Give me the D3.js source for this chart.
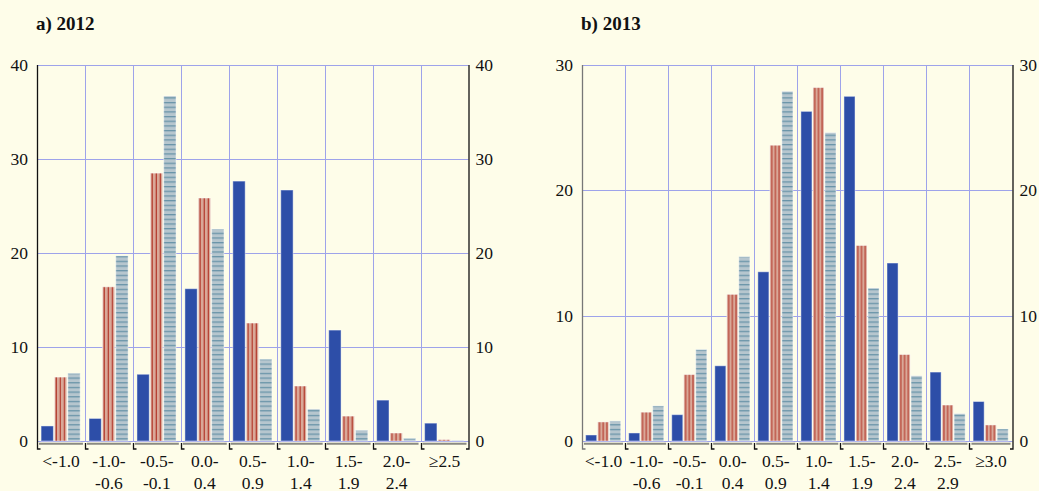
<!DOCTYPE html>
<html>
<head>
<meta charset="utf-8">
<script src="https://cdn.jsdelivr.net/npm/d3@7/dist/d3.min.js"></script>
<style>
body { margin: 0; background: #fefde9; }
svg { display: block; font-family: "Liberation Serif", "Times New Roman", serif; }
svg text { font-family: "Liberation Serif", "Times New Roman", serif; }
</style>
</head>
<body>
<svg width="1039" height="491"></svg>
<script>
// 数据：每组三列（蓝、红竖纹、灰蓝横纹）
var labels2012 = [["<-1.0"], ["-1.0-", "-0.6"], ["-0.5-", "-0.1"], ["0.0-", "0.4"], ["0.5-", "0.9"],
                  ["1.0-", "1.4"], ["1.5-", "1.9"], ["2.0-", "2.4"], ["\u22652.5"]];
var blue2012  = [1.6, 2.4, 7.1, 16.2, 27.65, 26.7, 11.8, 4.35, 1.9];
var red2012   = [6.8, 16.4, 28.5, 25.85, 12.55, 5.85, 2.65, 0.85, 0.15];
var steel2012 = [7.2, 19.7, 36.7, 22.55, 8.7, 3.4, 1.15, 0.28, 0.07];
var ticks2012 = [0, 10, 20, 30, 40];

var labels2013 = [["<-1.0"], ["-1.0-", "-0.6"], ["-0.5-", "-0.1"], ["0.0-", "0.4"], ["0.5-", "0.9"],
                  ["1.0-", "1.4"], ["1.5-", "1.9"], ["2.0-", "2.4"], ["2.5-", "2.9"], ["\u22653.0"]];
var blue2013  = [0.48, 0.64, 2.1, 6.0, 13.5, 26.3, 27.5, 14.2, 5.5, 3.15];
var red2013   = [1.52, 2.3, 5.3, 11.7, 23.6, 28.2, 15.6, 6.9, 2.87, 1.28];
var steel2013 = [1.6, 2.8, 7.3, 14.7, 27.9, 24.6, 12.2, 5.2, 2.18, 0.96];
var ticks2013 = [0, 10, 20, 30];

var svg = d3.select("svg");
var defs = svg.append("defs");

// 红色竖纹
var pr = defs.append("pattern").attr("id", "vstripe")
    .attr("patternUnits", "objectBoundingBox")
    .attr("width", 1 / 3).attr("height", 1);
pr.append("rect").attr("width", 20).attr("height", 600).attr("fill", "#d9a898");
pr.append("rect").attr("x", 1.3).attr("width", 1.1).attr("height", 600).attr("fill", "#b43a2c");

// 灰蓝横纹
var ps = defs.append("pattern").attr("id", "hstripe")
    .attr("patternUnits", "userSpaceOnUse")
    .attr("width", 20).attr("height", 4.67).attr("y", 441);
ps.append("rect").attr("width", 20).attr("height", 4.67).attr("fill", "#b6c6ce");
ps.append("rect").attr("y", 2).attr("width", 20).attr("height", 1.1).attr("fill", "#5d8ca2");

var fills = ["#2d4ea8", "url(#vstripe)", "url(#hstripe)"];

function panel(p) {
    var g = svg.append("g");
    var n = p.labels.length;
    var x = d3.scaleBand().domain(d3.range(n)).range([p.left, p.right]).padding(0);
    var bw = x.bandwidth();
    var inner = d3.scaleBand().domain([0, 1, 2]).range([bw * 0.085, bw * 0.9]).paddingInner(0.08);
    var y = d3.scaleLinear().domain([0, p.ticks[p.ticks.length - 1]]).range([441, 65]);

    // 标题
    g.append("text").attr("x", p.left - 1).attr("y", 30)
        .style("font-size", "19px").attr("font-weight", "bold").attr("fill", "#111")
        .text(p.title);

    // 网格线
    g.selectAll("line.hgrid").data(p.ticks).enter().append("line")
        .attr("x1", p.left).attr("x2", p.right)
        .attr("y1", function (d) { return Math.round(y(d)) + 0.5; })
        .attr("y2", function (d) { return Math.round(y(d)) + 0.5; })
        .attr("stroke", "#9ea3ea").attr("stroke-width", 1);
    g.selectAll("line.vgrid").data(d3.range(1, n)).enter().append("line")
        .attr("x1", function (d) { return Math.round(x(d)) + 0.5; })
        .attr("x2", function (d) { return Math.round(x(d)) + 0.5; })
        .attr("y1", y.range()[1]).attr("y2", 441)
        .attr("stroke", "#9ea3ea").attr("stroke-width", 1);

    // 柱子
    var rows = [];
    for (var i = 0; i < n; i++)
        for (var j = 0; j < 3; j++)
            rows.push({ i: i, j: j, v: p.series[j][i] });
    g.selectAll("rect.bar").data(rows).enter().append("rect")
        .attr("x", function (d) { return x(d.i) + inner(d.j); })
        .attr("y", function (d) { return y(d.v); })
        .attr("width", inner.bandwidth())
        .attr("height", function (d) { return y(0) - y(d.v); })
        .attr("fill", function (d) { return fills[d.j]; })
        .attr("stroke", "#ffffff").attr("stroke-opacity", 0.45).attr("stroke-width", 1);

    // 左右纵轴
    g.append("path").attr("d", "M" + (p.left + 0.5) + ",65V449H" + (p.left + 3.5))
        .attr("fill", "none").attr("stroke", p.leftColor).attr("stroke-width", 1.3);
    g.append("path").attr("d", "M" + (p.right + 0.5) + ",65V449H" + (p.right - 2.5))
        .attr("fill", "none").attr("stroke", "#111").attr("stroke-width", 1.3);

    // 横轴：每组一段灰线 + 刻度
    g.selectAll("line.base").data(d3.range(n)).enter().append("line")
        .attr("x1", function (d) { return x(d) + 2; })
        .attr("x2", function (d) { return x(d) + bw - 2; })
        .attr("y1", 443.8).attr("y2", 443.8)
        .attr("stroke", "#8a8a82").attr("stroke-width", 2);
    g.selectAll("path.tk").data(d3.range(1, n)).enter().append("path")
        .attr("d", function (d) { var xx = Math.round(x(d)) + 0.5; return "M" + xx + ",443V449H" + (xx + 3); })
        .attr("fill", "none").attr("stroke", "#111").attr("stroke-width", 1.3);

    // 纵轴刻度标签
    var yl = g.append("g").attr("transform", "translate(" + p.left + ",0)")
        .call(d3.axisLeft(y).tickValues(p.ticks).tickSize(0).tickPadding(9));
    var yr = g.append("g").attr("transform", "translate(" + p.right + ",0)")
        .call(d3.axisRight(y).tickValues(p.ticks).tickSize(0).tickPadding(7));
    [yl, yr].forEach(function (a) {
        a.attr("font-family", null).attr("font-size", null);
        a.select(".domain").remove();
        a.selectAll("text").style("font-size", "17.5px").attr("fill", "#111");
    });

    // 横轴标签（两行）
    var lab = g.selectAll("text.xlab").data(p.labels).enter().append("text")
        .attr("text-anchor", "middle").style("font-size", "17.5px").attr("fill", "#111")
        .attr("transform", function (d, i) { return "translate(" + (x(i) + bw / 2) + ",467)"; });
    lab.selectAll("tspan").data(function (d) { return d; }).enter().append("tspan")
        .attr("x", 0).attr("y", function (d, k) { return k * 21.5; })
        .text(function (d) { return d; });
}

panel({ title: "a) 2012", left: 37, right: 468.5, labels: labels2012,
        series: [blue2012, red2012, steel2012], ticks: ticks2012, leftColor: "#111" });
panel({ title: "b) 2013", left: 582, right: 1012.5, labels: labels2013,
        series: [blue2013, red2013, steel2013], ticks: ticks2013, leftColor: "#777" });
</script>
</body>
</html>
